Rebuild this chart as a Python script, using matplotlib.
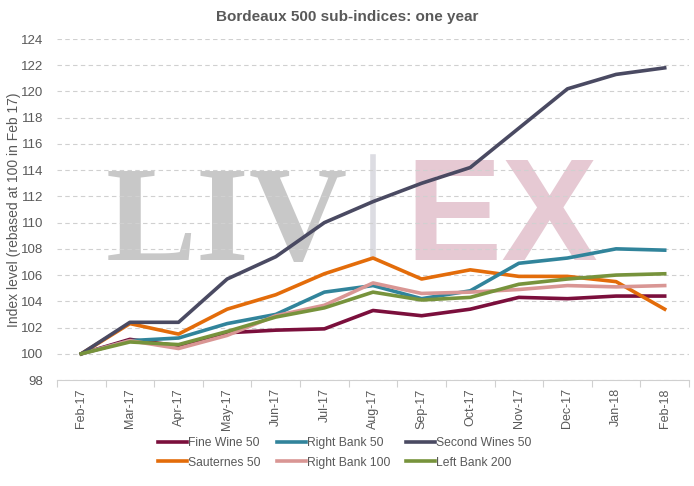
import matplotlib
matplotlib.use("Agg")
import matplotlib.pyplot as plt

# ====== Data ======
months = ['Feb-17', 'Mar-17', 'Apr-17', 'May-17', 'Jun-17', 'Jul-17', 'Aug-17',
          'Sep-17', 'Oct-17', 'Nov-17', 'Dec-17', 'Jan-18', 'Feb-18']

fine_wine_50 = [100, 101.1, 100.6, 101.6, 101.8, 101.9, 103.3, 102.9, 103.4, 104.3, 104.2, 104.4, 104.4]
sauternes_50 = [100, 102.3, 101.5, 103.4, 104.5, 106.1, 107.3, 105.7, 106.4, 105.9, 105.9, 105.5, 103.4]
right_bank_50 = [100, 101.0, 101.2, 102.3, 103.0, 104.7, 105.2, 104.2, 104.8, 106.9, 107.3, 108.0, 107.9]
right_bank_100 = [100, 101.0, 100.4, 101.4, 102.9, 103.7, 105.4, 104.6, 104.7, 104.9, 105.2, 105.1, 105.2]
second_wines_50 = [100, 102.4, 102.4, 105.7, 107.4, 110.0, 111.6, 113.0, 114.2, 117.2, 120.2, 121.3, 121.8]
left_bank_200 = [100, 100.9, 100.7, 101.7, 102.8, 103.5, 104.7, 104.1, 104.3, 105.3, 105.7, 106.0, 106.1]

y_ticks = list(range(98, 125, 2))

# urutan legend: matplotlib isi per kolom
series = [
    ('Fine Wine 50', fine_wine_50, '#7B0F3C'),
    ('Sauternes 50', sauternes_50, '#E36C0A'),
    ('Right Bank 50', right_bank_50, '#31849B'),
    ('Right Bank 100', right_bank_100, '#D99694'),
    ('Second Wines 50', second_wines_50, '#4A4A62'),
    ('Left Bank 200', left_bank_200, '#77933C'),
]

plt.rcParams['font.family'] = ['Liberation Sans', 'DejaVu Sans']
txt = '#595959'

fig = plt.figure(figsize=(6.94, 4.86), dpi=100)
ax = fig.add_axes([57 / 694, (486 - 380) / 486, 632 / 694, 341 / 486])

# ====== Watermark ======
ax.text(0.460, 0.352, 'LIV', transform=ax.transAxes, ha='right', va='baseline',
        fontsize=98, fontweight='bold', family='Liberation Serif',
        color='#C8C8C8', zorder=0)
ax.plot([0.50, 0.50], [0.367, 0.654], transform=ax.transAxes,
        color='#DCDCE2', lw=4, zorder=0)
ax.text(0.551, 0.352, 'EX', transform=ax.transAxes, ha='left', va='baseline',
        fontsize=104, fontweight='bold', family='Liberation Sans',
        color='#E6C9D3', zorder=0)

x = list(range(len(months)))
for name, vals, col in series:
    ax.plot(x, vals, color=col, lw=2.6, label=name, zorder=3)

ax.set_xlim(-0.5, len(months) - 0.5)
ax.set_ylim(98, 124)
ax.set_yticks(y_ticks)
ax.set_xticks(x)
ax.set_xticklabels(months, rotation=90, fontsize=9, color=txt)
ax.set_xticks([i - 0.5 for i in range(len(months) + 1)], minor=True)
ax.tick_params(axis='y', labelsize=9.5, colors=txt, length=0, pad=10)
ax.tick_params(axis='x', which='major', length=0, pad=6)
ax.tick_params(axis='x', which='minor', length=5, color='#D0D0D0', width=0.8)
ax.grid(axis='y', color='#D0D0D0', ls=(0, (4, 3)), lw=0.8)
ax.set_axisbelow(True)

for s in ['top', 'right', 'left']:
    ax.spines[s].set_visible(False)
ax.spines['bottom'].set_color('#D0D0D0')

ax.set_ylabel('Index level (rebased at 100 in Feb 17)', fontsize=10, color=txt)
ax.yaxis.set_label_coords(-36 / 632, 0.5)
fig.text(0.5, 0.965, 'Bordeaux 500 sub-indices: one year', ha='center', va='center',
         fontsize=11, fontweight='bold', color=txt)

fig.legend(loc='center', bbox_to_anchor=(0.497, 0.068), ncol=3, frameon=False,
           fontsize=8.7, handlelength=2.4, handletextpad=0.1, columnspacing=1.3,
           labelcolor=txt, labelspacing=0.6)

plt.savefig('out.png', dpi=100)
